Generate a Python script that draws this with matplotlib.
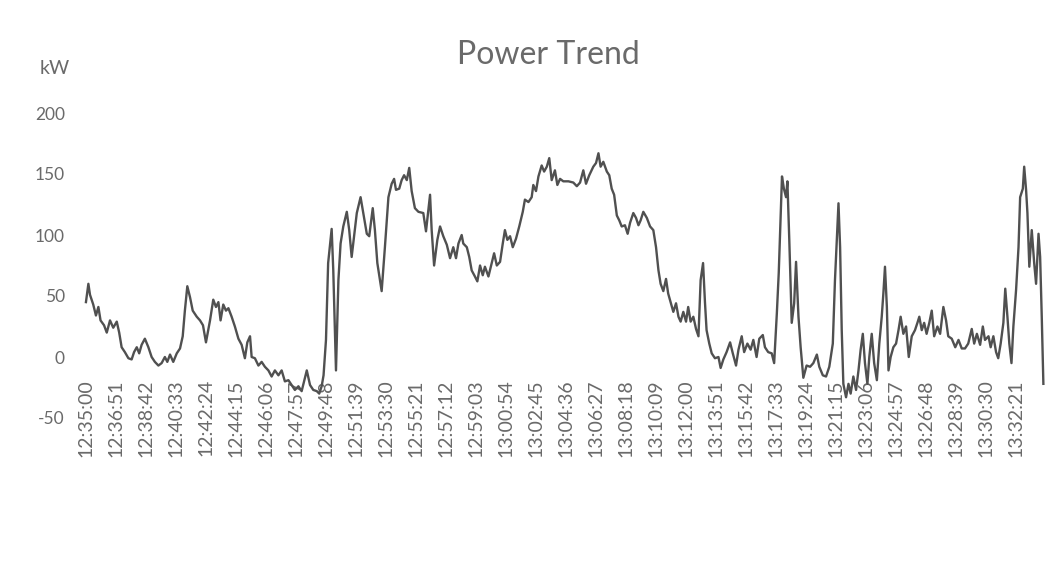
import matplotlib
matplotlib.use("Agg")
import matplotlib.pyplot as plt

# seconds after 12:35:00
seconds = [
    0, 9, 15, 27, 37, 46, 54, 67, 77, 89, 101, 114, 123, 132, 144, 157, 169, 178, 188, 197,
    206, 218, 231, 243, 255, 268, 280, 292, 301, 311, 323, 336, 348, 358, 366, 375, 385, 395, 410, 422,
    433, 444, 459, 471, 481, 490, 498, 508, 518, 527, 539, 551, 564, 576, 588, 597, 607, 613, 625, 638,
    650, 662, 675, 687, 699, 712, 724, 736, 749, 761, 773, 786, 798, 807, 817, 829, 841, 854, 863, 872,
    879, 888, 896, 909, 915, 925, 934, 942, 952, 965, 974, 983, 992, 1002, 1016, 1026, 1039, 1048, 1061, 1069,
    1078, 1094, 1106, 1119, 1131, 1140, 1147, 1159, 1168, 1177, 1187, 1196, 1205, 1217, 1230, 1248, 1258, 1273, 1279, 1288,
    1300, 1310, 1322, 1335, 1347, 1359, 1369, 1378, 1390, 1396, 1409, 1418, 1427, 1439, 1448, 1458, 1468, 1476, 1489, 1501,
    1510, 1520, 1532, 1542, 1550, 1559, 1569, 1579, 1591, 1603, 1616, 1624, 1637, 1649, 1655, 1665, 1674, 1686, 1695, 1705,
    1714, 1723, 1735, 1744, 1754, 1766, 1785, 1803, 1816, 1828, 1840, 1850, 1862, 1877, 1887, 1896, 1904, 1914, 1927, 1936,
    1945, 1954, 1964, 1973, 1982, 1994, 2004, 2013, 2025, 2035, 2044, 2052, 2062, 2075, 2087, 2099, 2109, 2118, 2126, 2136,
    2146, 2154, 2163, 2173, 2183, 2192, 2200, 2210, 2220, 2228, 2237, 2247, 2257, 2266, 2274, 2283, 2290, 2296, 2306, 2315,
    2327, 2340, 2348, 2358, 2370, 2383, 2393, 2405, 2414, 2426, 2435, 2447, 2459, 2469, 2481, 2491, 2504, 2512, 2524, 2537,
    2546, 2556, 2563, 2570, 2575, 2582, 2590, 2595, 2602, 2611, 2620, 2627, 2636, 2644, 2654, 2666, 2679, 2691, 2704, 2713,
    2726, 2738, 2750, 2763, 2771, 2784, 2790, 2796, 2802, 2812, 2821, 2829, 2839, 2849, 2858, 2866, 2874, 2882, 2891, 2898,
    2907, 2916, 2926, 2935, 2944, 2950, 2956, 2963, 2969, 2977, 2987, 2997, 3006, 3014, 3024, 3034, 3044, 3055, 3067, 3076,
    3083, 3092, 3101, 3110, 3120, 3129, 3138, 3150, 3160, 3172, 3182, 3190, 3203, 3216, 3228, 3240, 3252, 3264, 3277, 3286,
    3296, 3308, 3318, 3326, 3339, 3347, 3357, 3367, 3375, 3384, 3394, 3401, 3409, 3416, 3424, 3431, 3441, 3450, 3456, 3466,
    3471, 3478, 3483, 3490, 3499, 3508, 3515, 3524, 3530, 3536, 3542,
]
power_kw = [
    45, 60, 51, 43, 34, 41, 30, 26, 20, 30, 24, 29, 20, 8, 4, -1, -2, 4, 8, 3,
    10, 15, 8, 0, -4, -7, -5, 0, -4, 2, -4, 3, 7, 17, 38, 58, 49, 38, 33, 30,
    26, 12, 30, 47, 41, 45, 30, 43, 38, 40, 33, 25, 15, 10, -1, 12, 17, 0, -1, -7,
    -4, -8, -11, -16, -11, -15, -11, -20, -19, -23, -27, -24, -28, -20, -11, -23, -27, -28, -30, -24,
    -15, 14, 77, 105, 71, -11, 63, 93, 107, 119, 104, 82, 99, 118, 131, 118, 101, 99, 122, 104,
    77, 54, 90, 131, 142, 146, 137, 138, 145, 149, 145, 155, 136, 122, 119, 118, 103, 133, 104, 75,
    96, 107, 99, 92, 81, 90, 81, 93, 100, 93, 90, 82, 71, 66, 62, 75, 67, 74, 66, 77,
    85, 75, 78, 93, 104, 96, 99, 90, 97, 107, 119, 129, 127, 131, 141, 136, 148, 157, 152, 156,
    163, 145, 153, 141, 146, 144, 144, 143, 140, 143, 153, 142, 149, 156, 159, 167, 156, 160, 152, 149,
    138, 133, 116, 112, 107, 108, 101, 110, 118, 114, 108, 112, 119, 114, 107, 104, 90, 71, 60, 54,
    64, 52, 45, 37, 44, 33, 29, 37, 29, 41, 29, 33, 23, 17, 63, 77, 45, 22, 11, 3,
    -1, 0, -9, -2, 4, 12, 3, -7, 6, 17, 4, 11, 6, 14, 0, 15, 18, 8, 4, 3,
    -5, 36, 69, 115, 148, 138, 131, 144, 96, 28, 44, 78, 33, 8, -17, -7, -8, -5, 2, -8,
    -15, -16, -8, 11, 63, 126, 90, 22, -22, -33, -22, -30, -16, -27, -11, 6, 19, -5, -22, 0,
    19, -5, -19, 11, 33, 52, 74, 41, -11, 0, 8, 11, 22, 33, 19, 25, 0, 17, 22, 28,
    33, 22, 28, 19, 28, 38, 17, 25, 19, 41, 30, 17, 15, 8, 14, 7, 7, 11, 23, 11,
    19, 10, 25, 14, 17, 8, 17, 4, -1, 11, 28, 56, 33, 11, -5, 25, 55, 90, 131, 138,
    156, 137, 118, 74, 104, 77, 60, 101, 82, 33, -22,
]
tick_labels = [
    "12:35:00", "12:36:51", "12:38:42", "12:40:33", "12:42:24", "12:44:15", "12:46:06", "12:47:57",
    "12:49:48", "12:51:39", "12:53:30", "12:55:21", "12:57:12", "12:59:03", "13:00:54", "13:02:45",
    "13:04:36", "13:06:27", "13:08:18", "13:10:09", "13:12:00", "13:13:51", "13:15:42", "13:17:33",
    "13:19:24", "13:21:15", "13:23:06", "13:24:57", "13:26:48", "13:28:39", "13:30:30", "13:32:21",
]
y_ticks = [-50, 0, 50, 100, 150, 200]


def to_seconds(label: str) -> int:
    h, m, s = (int(p) for p in label.split(":"))
    return h * 3600 + m * 60 + s - (12 * 3600 + 35 * 60)


plt.rcParams["font.family"] = ["Lato", "DejaVu Sans"]
text_color = "#6a6a6a"

fig = plt.figure(figsize=(10.45, 5.86), dpi=100)
ax = fig.add_axes([80 / 1045, 168 / 586, 965 / 1045, 305 / 586])

# category axis crosses at 0, as in the Excel original (set before the ticks,
# since moving the spine resets them)
for side in ["left", "right", "top", "bottom"]:
    ax.spines[side].set_visible(False)
ax.spines["bottom"].set_position(("data", 0))

ax.plot(seconds, power_kw, color="#505050", linewidth=1.7, zorder=3)

ax.set_xlim(-22, 3548)
ax.set_ylim(-50, 200)
ax.set_yticks(y_ticks)
ax.set_yticklabels([str(v) for v in y_ticks])
ax.set_xticks([to_seconds(lbl) for lbl in tick_labels])
ax.set_xticklabels(tick_labels)

ax.tick_params(axis="both", length=0, labelcolor=text_color)
ax.tick_params(axis="y", pad=11, labelsize=12.5)
ax.tick_params(axis="x", pad=16, labelsize=14, labelrotation=90)

fig.text(548 / 1045, 1 - 55 / 586, "Power Trend", ha="center", va="center",
         fontsize=23, color=text_color)
fig.text(55 / 1045, 1 - 68 / 586, "kW", ha="center", va="center",
         fontsize=14, color=text_color)

fig.savefig("out.png", dpi=100)
